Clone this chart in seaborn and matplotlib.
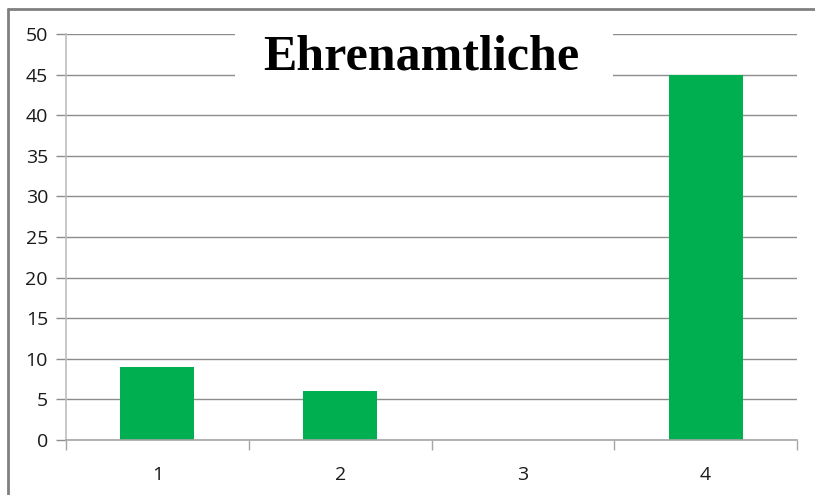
import matplotlib
matplotlib.use("Agg")
import matplotlib.pyplot as plt
from matplotlib.patches import Rectangle
from matplotlib.lines import Line2D
import seaborn as sns
import pandas as pd

categories = ["1", "2", "3", "4"]
values = [9, 6, 0, 45]
yticks = [0, 5, 10, 15, 20, 25, 30, 35, 40, 45, 50]
title = "Ehrenamtliche"

sns.set_theme(style="white")
plt.rcParams["font.family"] = ["Open Sans", "DejaVu Sans"]

W, H = 815, 495
fig = plt.figure(figsize=(W / 100, H / 100), dpi=100)
ax = fig.add_axes([66 / W, (H - 440) / H, (797 - 66) / W, (440 - 34) / H])

df = pd.DataFrame({"cat": categories, "val": values})
sns.barplot(data=df, x="cat", y="val", color="#00B050", width=0.405,
            saturation=1, linewidth=0, ax=ax, zorder=3)

ax.set_xlim(-0.5, len(categories) - 0.5)
ax.set_ylim(0, 50)
ax.set_yticks(yticks)
ax.set_xlabel("")
ax.set_ylabel("")

grid_c = "#8c8c8c"
ax.grid(axis="y", color=grid_c, linewidth=1.0, zorder=0)
ax.set_axisbelow(True)
for s in ["top", "right"]:
    ax.spines[s].set_visible(False)
ax.spines["left"].set_color("#bdbdbd")
ax.spines["left"].set_linewidth(1.2)
ax.spines["bottom"].set_color("#a6a6a6")
ax.spines["bottom"].set_linewidth(1.2)
ax.spines["bottom"].set_zorder(4)

ax.tick_params(axis="y", direction="out", length=7, width=1.0, color=grid_c,
               labelsize=14, labelcolor="#1a1a1a", pad=6, left=True)
ax.tick_params(axis="x", which="major", length=0, labelsize=14,
               labelcolor="#1a1a1a", pad=19)
ax.set_xticks([i - 0.5 for i in range(len(categories) + 1)], minor=True)
ax.tick_params(axis="x", which="minor", direction="out", length=7, width=1.0,
               color="#a6a6a6", bottom=True)

# title with a white backing box that interrupts the top gridlines
fig.patches.append(Rectangle((235 / W, 1 - 80 / H), (613 - 235) / W, (80 - 28) / H,
                             transform=fig.transFigure, facecolor="white",
                             edgecolor="none", zorder=5))
fig.text(421 / W, 1 - 57 / H, title, ha="center", va="center",
         fontsize=36, fontweight="bold", family=["Liberation Serif"],
         color="black", zorder=6)

# chart-area frame
fig.lines.append(Line2D([8 / W, 8 / W], [0, 1 - 9 / H], transform=fig.transFigure,
                        color="#808080", linewidth=2))
fig.lines.append(Line2D([8 / W, 1], [1 - 9 / H, 1 - 9 / H], transform=fig.transFigure,
                        color="#808080", linewidth=2))

fig.savefig("out.png", dpi=100)
